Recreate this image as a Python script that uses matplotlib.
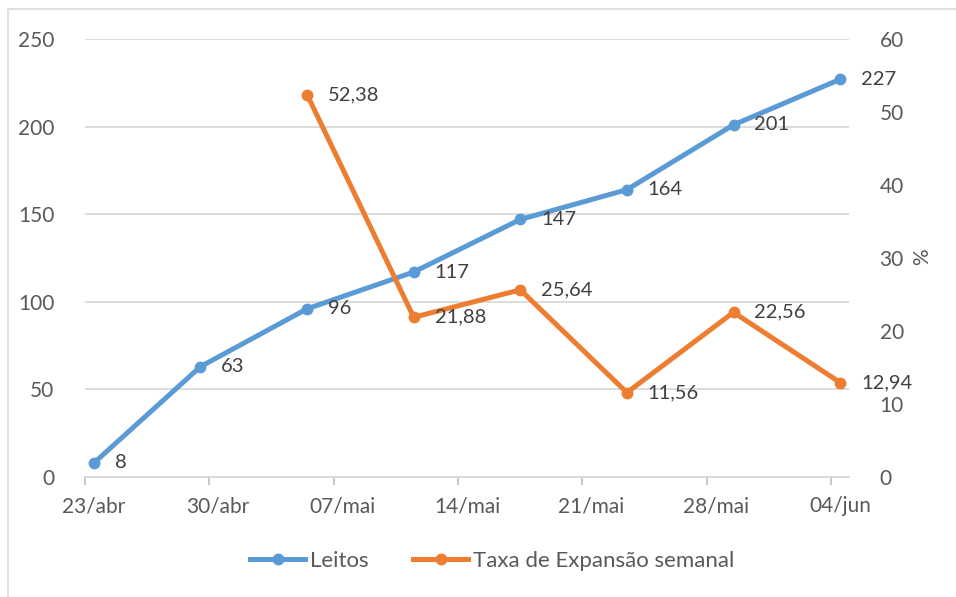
import matplotlib
matplotlib.use("Agg")
import matplotlib.pyplot as plt
import matplotlib.dates as mdates
import pandas as pd
from matplotlib.lines import Line2D
from matplotlib.patches import Rectangle

# ---- data ----
dates = ["2020-04-23", "2020-04-29", "2020-05-05", "2020-05-11",
         "2020-05-17", "2020-05-23", "2020-05-29", "2020-06-04"]
leitos = [8, 63, 96, 117, 147, 164, 201, 227]
taxa_dates = ["2020-05-05", "2020-05-11", "2020-05-17", "2020-05-23",
              "2020-05-29", "2020-06-04"]
taxa = [52.38, 21.88, 25.64, 11.56, 22.56, 12.94]
tick_dates = ["2020-04-23", "2020-04-30", "2020-05-07", "2020-05-14",
              "2020-05-21", "2020-05-28", "2020-06-04"]
tick_labels = ["23/abr", "30/abr", "07/mai", "14/mai", "21/mai", "28/mai", "04/jun"]
left_ticks = [0, 50, 100, 150, 200, 250]
right_ticks = [0, 10, 20, 30, 40, 50, 60]
series_names = ["Leitos", "Taxa de Expansão semanal"]
right_label = "%"

plt.rcParams['font.family'] = ['Lato', 'DejaVu Sans']

BLUE = "#5B9BD5"
ORANGE = "#ED7D31"
GRID = "#D9D9D9"
TXT = "#595959"
LBL = "#404040"
FS_TICK = 15
FS_LBL = 14.5
FS_LEG = 16

half = pd.Timedelta(hours=12)  # Excel date axis: points centred in day slot
x_l = pd.to_datetime(dates) + half
x_t = pd.to_datetime(taxa_dates) + half
ticks = pd.to_datetime(tick_dates)

fig = plt.figure(figsize=(9.56, 5.97), dpi=100)
fig.patches.append(Rectangle((8 / 956, -0.1), 2.0, (597 - 9) / 597 + 0.1,
                             transform=fig.transFigure, fill=False,
                             edgecolor="#D9D9D9", linewidth=1.2, zorder=0))

ax = fig.add_axes([85 / 956, 120 / 597, (849 - 85) / 956, (477 - 39) / 597])
ax2 = ax.twinx()

ax.set_xlim(pd.Timestamp("2020-04-23"), pd.Timestamp("2020-06-05"))
ax.set_ylim(0, 250)
ax2.set_ylim(0, 60)

ax.plot(x_l, leitos, color=BLUE, lw=3.6, marker="o", ms=7.5,
        solid_capstyle="round", zorder=3)
ax2.plot(x_t, taxa, color=ORANGE, lw=3.6, marker="o", ms=7.5,
         solid_capstyle="round", zorder=3)

for x, v in zip(x_l, leitos):
    ax.annotate(str(v), (x, v), xytext=(15, 0), textcoords="offset points",
                ha="left", va="center", fontsize=FS_LBL, color=LBL, zorder=5)
for x, v in zip(x_t, taxa):
    ax2.annotate(f"{v:.2f}".replace(".", ","), (x, v), xytext=(15, 0),
                 textcoords="offset points", ha="left", va="center",
                 fontsize=FS_LBL, color=LBL, zorder=5)

# grid & axes styling
ax.set_yticks(left_ticks)
ax.yaxis.grid(True, color=GRID, lw=1.3)
ax.set_axisbelow(True)
ax2.set_yticks(right_ticks)
for a in (ax, ax2):
    for s in a.spines.values():
        s.set_visible(False)
ax.spines["bottom"].set_visible(True)
ax.spines["bottom"].set_color(GRID)
ax.spines["bottom"].set_linewidth(1.3)

ax.tick_params(axis="y", length=0, pad=22, labelsize=FS_TICK, labelcolor=TXT)
ax2.tick_params(axis="y", length=0, pad=22, labelsize=FS_TICK, labelcolor=TXT)

ax.set_xticks(ticks)
ax.set_xticklabels([""] * len(ticks))
ax.set_xticks(ticks + half, minor=True)
ax.set_xticklabels(tick_labels, minor=True)
ax.tick_params(axis="x", which="major", length=6, color="#BFBFBF", width=1.2)
ax.tick_params(axis="x", which="minor", length=0, pad=14, labelsize=FS_TICK,
               labelcolor=TXT)

fig.text(922 / 956, 1 - 257 / 597, right_label, rotation=90, ha="center",
         va="center", fontsize=FS_TICK, color=TXT)

handles = [Line2D([], [], color=BLUE, lw=3.6, marker="o", ms=7.5),
           Line2D([], [], color=ORANGE, lw=3.6, marker="o", ms=7.5)]
fig.legend(handles, series_names, loc="center", bbox_to_anchor=(492 / 956, 36 / 597),
           ncol=2, frameon=False, fontsize=FS_LEG, labelcolor=TXT,
           handlelength=2.5, handletextpad=0.2, columnspacing=2.0)

fig.savefig("out.png", dpi=100)
